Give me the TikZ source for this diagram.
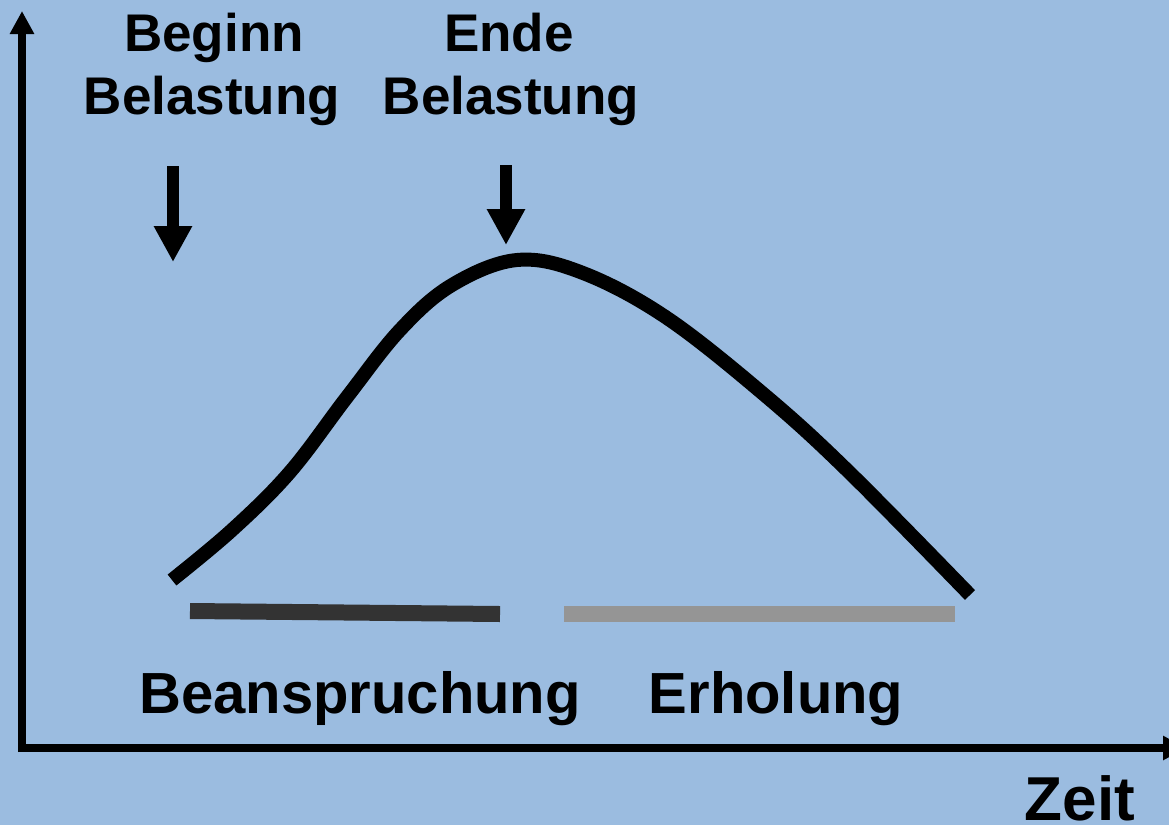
\documentclass[tikz,border=0pt]{standalone}
\usepackage{fontspec}
\setmainfont{Liberation Sans}
\usetikzlibrary{arrows.meta}
\definecolor{bg}{RGB}{155,188,224}
\definecolor{darkbar}{RGB}{51,51,51}
\definecolor{greybar}{RGB}{149,149,149}
\begin{document}
\begin{tikzpicture}[x=1pt,y=-1pt,
  lbl/.style={anchor=base,inner sep=0pt,font=\fontsize{53}{60}\selectfont\bfseries},
  biglbl/.style={anchor=base,inner sep=0pt,font=\fontsize{58}{66}\selectfont\bfseries},
  axis/.style={line width=8pt,-{Triangle[length=23pt,width=23pt]}},
  marker/.style={line width=12pt,-{Triangle[length=36pt,width=36pt]}},
  curve/.style={line width=14pt},
  bar/.style={line width=16pt}]
\fill[bg] (0,0) rectangle (1169,825);
\useasboundingbox (0,0) rectangle (1169,825);
% axes
\coordinate (o) at (22,748);
\coordinate (ytip) at (22,11);
\coordinate (xtip) at (1186,748);
\draw[axis] (22,752) -- (ytip);
\draw[axis] (18,748) -- (xtip);
% labels top
\node[lbl] (beg1) at (214,51) {Beginn};
\node[lbl] (beg2) at (212,114) {Belastung};
\node[lbl] (end1) at (509,51) {Ende};
\node[lbl] (end2) at (511,114) {Belastung};
% marker arrows
\coordinate (m1a) at (173,166);
\coordinate (m1b) at (173,262);
\coordinate (m2a) at (506,165);
\coordinate (m2b) at (506,245);
\draw[marker] (m1a) -- (m1b);
\draw[marker] (m2a) -- (m2b);
% curve
\draw[curve] plot[smooth,tension=0.6] coordinates {(172,580) (232,530) (290,472) (347,397) (400,330) (452,285) (517,260) (583,273) (667,318) (767,397) (850,473) (970,595)};
% bars
\coordinate (b1a) at (190,611);
\coordinate (b1b) at (500,614);
\coordinate (b2a) at (564,614);
\coordinate (b2b) at (955,614);
\draw[bar,darkbar] (b1a) -- (b1b);
\draw[bar,greybar] (b2a) -- (b2b);
% bottom labels
\node[biglbl] (bean) at (360,713) {Beanspruchung};
\node[biglbl] (erh) at (776,713) {Erholung};
\node[biglbl,font=\fontsize{62}{70}\selectfont\bfseries] (zeit) at (1080,820) {Zeit};
\end{tikzpicture}
\end{document}
